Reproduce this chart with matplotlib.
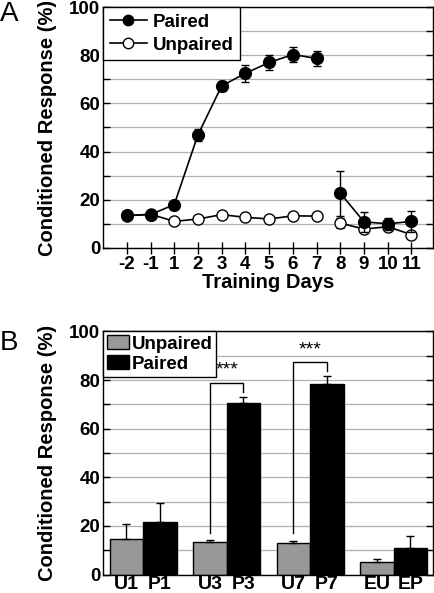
import numpy as np
import matplotlib
matplotlib.use("Agg")
import matplotlib.pyplot as plt
from matplotlib.ticker import MultipleLocator

plt.rcParams['font.family'] = ['Liberation Sans', 'DejaVu Sans']
plt.rcParams['font.weight'] = 'bold'

# panel A data
days = ['-2', '-1', '1', '2', '3', '4', '5', '6', '7', '8', '9', '10', '11']
paired = [13.5, 13.8, 18.0, 47.0, 67.3, 72.5, 77.0, 80.3, 78.7, 22.7, 10.8, 10.0, 11.0]
paired_err = [1.0, 1.0, 1.0, 2.5, 2.0, 3.5, 3.3, 3.0, 3.2, 9.3, 4.0, 2.5, 4.5]
unpaired = [13.3, 14.0, 11.0, 12.0, 13.8, 12.7, 12.0, 13.3, 13.2, 10.3, 7.8, 8.8, 5.5]
unpaired_err = [1.0, 1.0, 1.0, 1.0, 1.0, 1.0, 1.0, 1.0, 1.0, 2.0, 1.5, 1.2, 1.0]

# panel B data
bar_labels = ['U1', 'P1', 'U3', 'P3', 'U7', 'P7', 'EU', 'EP']
bar_unpaired = [14.7, 13.3, 13.0, 5.3]
bar_unpaired_err = [6.0, 0.8, 1.0, 1.0]
bar_paired = [21.8, 70.5, 78.5, 11.0]
bar_paired_err = [7.5, 2.7, 3.0, 5.0]

fig = plt.figure(figsize=(4.35, 5.93), dpi=100)

# ---------------- A ----------------
axA = fig.add_axes([0.237, 0.582, 0.758, 0.406])
x = np.arange(len(days))
seg1 = x <= 8
seg2 = x >= 9
for xs in (seg1, seg2):
    axA.errorbar(x[xs], np.array(unpaired)[xs], yerr=np.array(unpaired_err)[xs],
                 color='black', marker='o', mfc='white', mec='black', ms=8,
                 lw=1.2, capsize=3, elinewidth=1, zorder=3)
    axA.errorbar(x[xs], np.array(paired)[xs], yerr=np.array(paired_err)[xs],
                 color='black', marker='o', mfc='black', mec='black', ms=8.5,
                 lw=1.2, capsize=3, elinewidth=1, zorder=4)
hp, = axA.plot([], [], color='black', marker='o', ms=7.5, lw=1.2, label='Paired')
hu, = axA.plot([], [], color='black', marker='o', mfc='white', ms=7.5, lw=1.2, label='Unpaired')
leg = axA.legend(handles=[hp, hu], loc='upper left', borderaxespad=0, fancybox=False,
                 edgecolor='black', framealpha=1, prop={'weight': 'bold', 'size': 13.5},
                 handlelength=2.0, handletextpad=0.3, borderpad=0.35, labelspacing=0.3)
leg.get_frame().set_linewidth(1)
axA.set_xlim(-1.0, 12.9)
axA.set_ylim(0, 100)
axA.set_xticks(x)
axA.set_xticklabels(days)
axA.yaxis.set_major_locator(MultipleLocator(20))
axA.yaxis.set_minor_locator(MultipleLocator(10))
axA.grid(axis='y', which='both', color='#b0b0b0', lw=0.9)
axA.set_axisbelow(True)
axA.tick_params(axis='x', direction='inout', length=9, width=1, labelsize=13.5, pad=1)
axA.tick_params(axis='y', which='both', direction='in', length=5, width=1, labelsize=13.5,
                pad=2, right=True)
axA.set_xlabel('Training Days', fontsize=14.5, fontweight='bold', labelpad=0)
axA.set_ylabel('Conditioned Response (%)', fontsize=14.5, fontweight='bold', labelpad=9)
for s in axA.spines.values():
    s.set_linewidth(1)
fig.text(0.0, 0.999, 'A', fontsize=20, fontweight='normal', va='top', ha='left')

# ---------------- B ----------------
axB = fig.add_axes([0.237, 0.031, 0.758, 0.410])
g = np.arange(4)
w = 0.4
axB.bar(g - w / 2, bar_unpaired, w, color='#989898', edgecolor='black', lw=1,
        label='Unpaired', zorder=2)
axB.bar(g + w / 2, bar_paired, w, color='black', edgecolor='black', lw=1,
        label='Paired', zorder=2)
axB.errorbar(g - w / 2, bar_unpaired, yerr=[np.zeros(4), bar_unpaired_err], fmt='none',
             ecolor='black', elinewidth=1, capsize=3, zorder=3)
axB.errorbar(g + w / 2, bar_paired, yerr=[np.zeros(4), bar_paired_err], fmt='none',
             ecolor='black', elinewidth=1, capsize=3, zorder=3)
pos = np.ravel(np.column_stack([g - w / 2, g + w / 2]))
axB.set_xticks(pos)
axB.set_xticklabels(bar_labels)
axB.set_xlim(-0.48, 3.47)
axB.set_ylim(0, 100)
axB.yaxis.set_major_locator(MultipleLocator(20))
axB.yaxis.set_minor_locator(MultipleLocator(10))
axB.grid(axis='y', which='both', color='#b0b0b0', lw=0.9)
axB.set_axisbelow(True)
axB.tick_params(axis='x', length=0, labelsize=14, pad=1)
axB.tick_params(axis='y', which='both', direction='in', length=5, width=1, labelsize=13.5,
                pad=2, right=True)
axB.set_ylabel('Conditioned Response (%)', fontsize=14.5, fontweight='bold', labelpad=9)
for s in axB.spines.values():
    s.set_linewidth(1)

# significance brackets
for i, (y_low, y_top, y_right, y_star) in zip([1, 2], [(17, 79, 75, 80.5), (17, 87.6, 83.8, 89)]):
    xl, xr = g[i] - w / 2, g[i] + w / 2
    axB.plot([xl, xl, xr, xr], [y_low, y_top, y_top, y_right], color='black', lw=1, zorder=4)
    axB.text((xl + xr) / 2, y_star, '***', ha='center', va='bottom', fontsize=14,
             fontweight='normal', zorder=6)

legB = axB.legend(loc='upper left', borderaxespad=0, fancybox=False, edgecolor='black',
                  framealpha=1, prop={'weight': 'bold', 'size': 13.5}, handlelength=1.2,
                  handleheight=0.75, handletextpad=0.12, borderpad=0.2, labelspacing=0.15)
legB.get_frame().set_linewidth(1)
fig.text(0.0, 0.443, 'B', fontsize=20, fontweight='normal', va='top', ha='left')

fig.savefig('out.png', dpi=100)
